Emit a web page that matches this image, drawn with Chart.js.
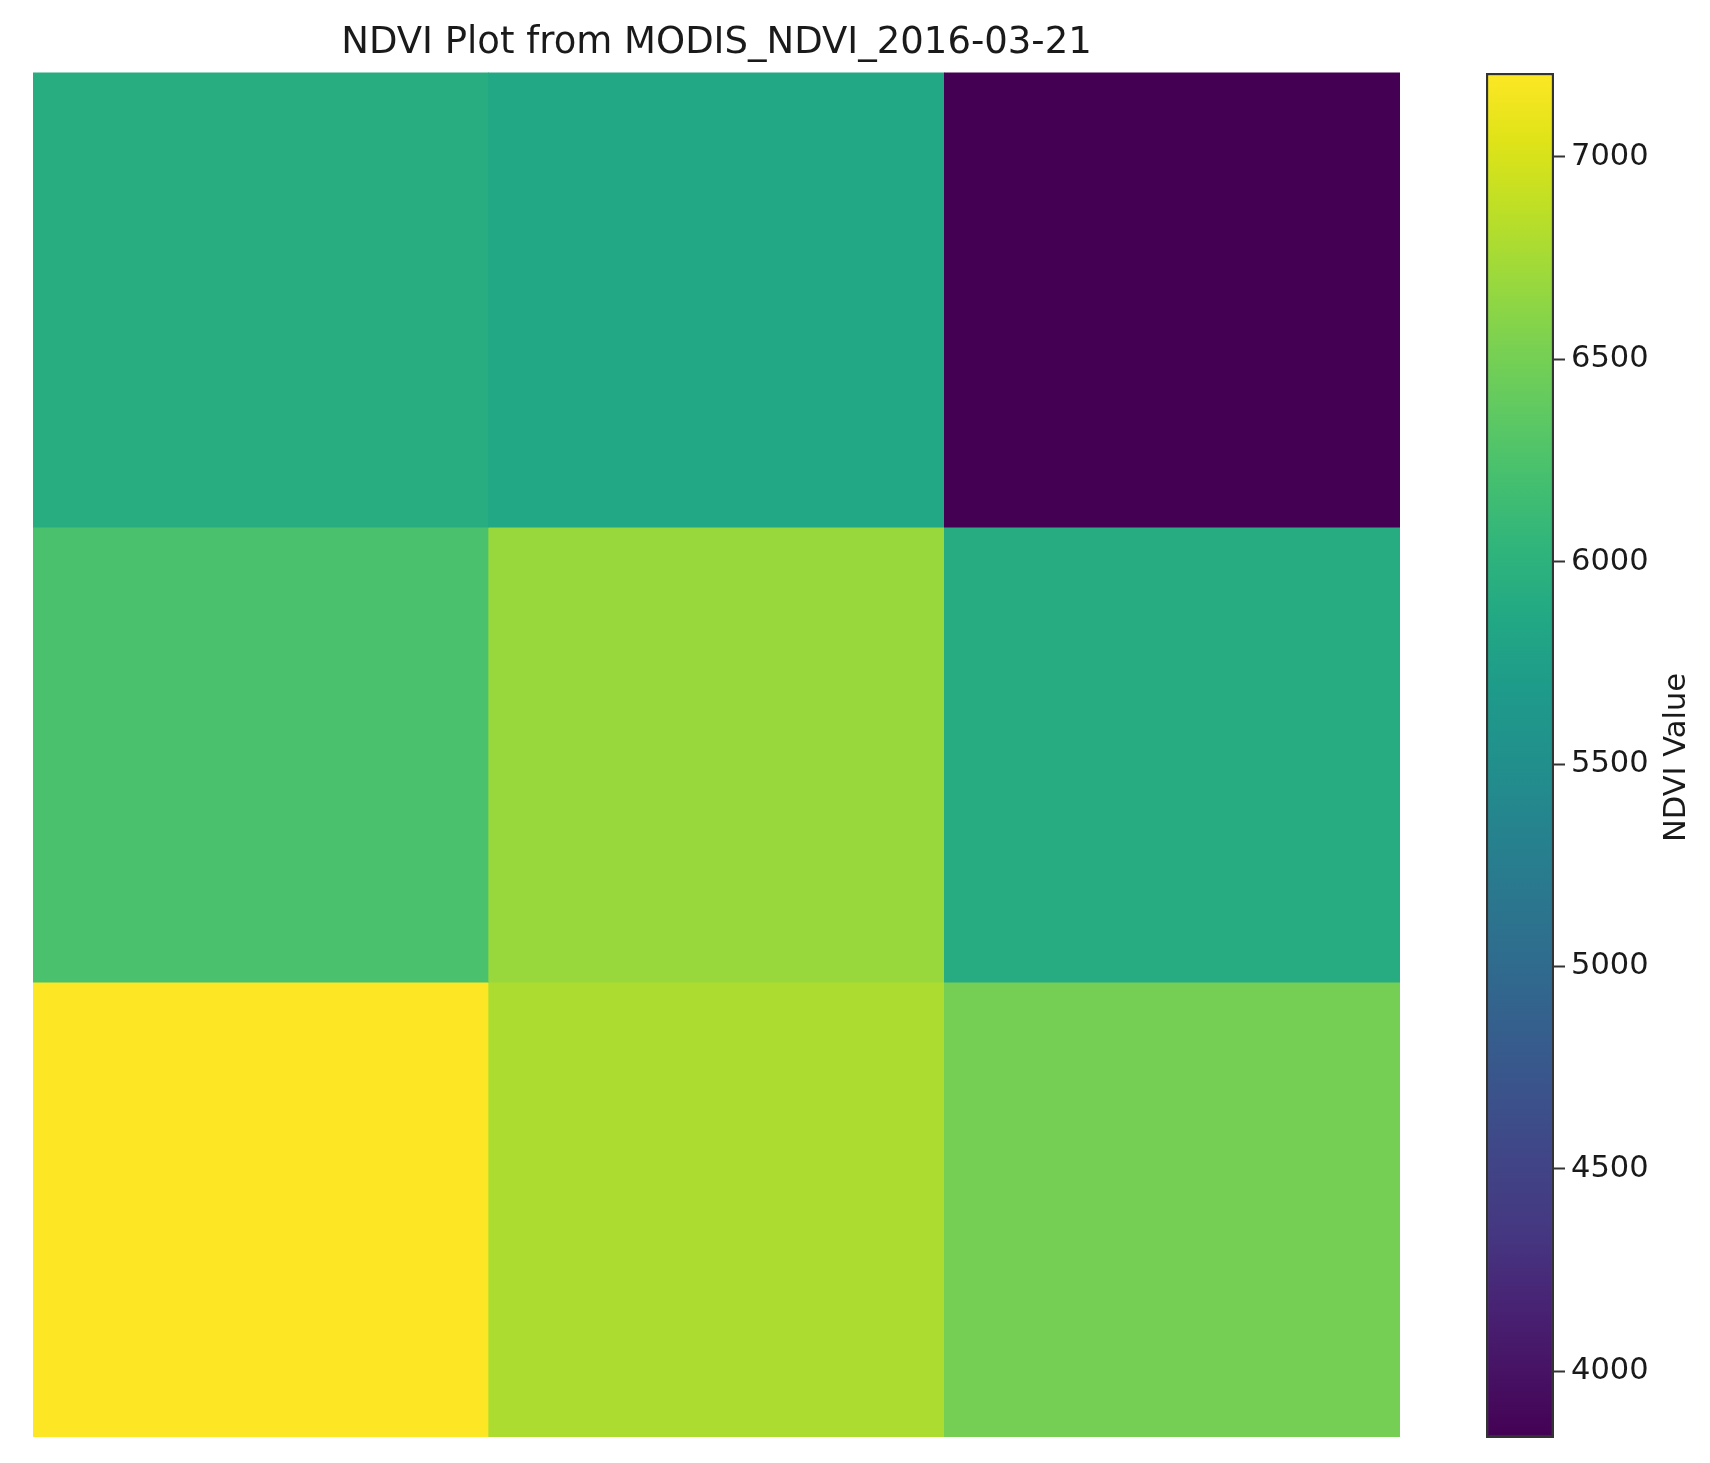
<!DOCTYPE html>
<html>
<head>
<meta charset="utf-8">
<script src="https://cdn.jsdelivr.net/npm/chart.js@4.4.1/dist/chart.umd.min.js"></script>
<style>
  html, body { margin: 0; padding: 0; background: #ffffff; }
  body { width: 1710px; height: 1463px; position: relative; overflow: hidden; }
  #heatWrap { position: absolute; left: 33px; top: 0px; width: 1367px; height: 1437px; }
  #cbWrap { position: absolute; left: 1486px; top: 73px; width: 224px; height: 1365px; }
</style>
</head>
<body>
<div id="heatWrap"><canvas id="heat"></canvas></div>
<div id="cbWrap"><canvas id="cb"></canvas></div>
<script>
// ---- Data ----
const title = "NDVI Plot from MODIS_NDVI_2016-03-21";
const colLabels = ["0", "1", "2"];
const rowLabels = ["0", "1", "2"];
const row0 = [5930, 5860, 3835];
const row1 = [6230, 6690, 5920];
const row2 = [7207, 6790, 6500];
const rows = [row0, row1, row2];
const vmin = 3835;
const vmax = 7207;
const cbTicks = [4000, 4500, 5000, 5500, 6000, 6500, 7000];
const cbLabel = "NDVI Value";

// ---- Viridis colormap anchors ----
const viridis = ["#440154","#471365","#482475","#453781","#414487","#3b528b","#355f8d","#2f6c8e","#2a788e","#25848e","#21918c","#1e9b8a","#22a884","#2fb47c","#44bf70","#5ec962","#7ad151","#9bd93c","#bddf26","#dfe318","#fde725"];
function hex2rgb(h){ return [parseInt(h.substr(1,2),16), parseInt(h.substr(3,2),16), parseInt(h.substr(5,2),16)]; }
const vrgb = viridis.map(hex2rgb);
function cmap(t){
  t = Math.max(0, Math.min(1, t));
  const n = vrgb.length - 1;
  const f = t * n;
  const i = Math.min(Math.floor(f), n - 1);
  const u = f - i;
  const a = vrgb[i], b = vrgb[i+1];
  const c = a.map((x, k) => Math.round(x + (b[k] - x) * u));
  return `rgb(${c[0]},${c[1]},${c[2]})`;
}
function colorOf(v){ return cmap((v - vmin) / (vmax - vmin)); }

const FONT = "'DejaVu Sans', 'Liberation Sans', sans-serif";
const TXT = "#1a1a1a";

// ---- Heatmap ----
const heatDatasets = rows.map((r, ri) => ({
  label: "row " + rowLabels[ri],
  data: r.map(() => [ri, ri + 1]),
  backgroundColor: r.map(colorOf),
  borderWidth: 0,
  barPercentage: 1.0,
  categoryPercentage: 1.0,
  grouped: false
}));

new Chart(document.getElementById('heat'), {
  type: 'bar',
  data: { labels: colLabels, datasets: heatDatasets },
  options: {
    responsive: true,
    maintainAspectRatio: false,
    devicePixelRatio: 1,
    animation: false,
    layout: { padding: 0 },
    plugins: {
      legend: { display: false },
      tooltip: { enabled: false },
      title: {
        display: true,
        text: title,
        color: TXT,
        font: { family: FONT, size: 37, weight: 'normal', lineHeight: 1.2 },
        padding: { top: 21, bottom: 7 }
      }
    },
    scales: {
      x: { display: false, offset: true, grid: { display: false } },
      y: { display: false, min: 0, max: 3, reverse: true, grid: { display: false } }
    }
  }
});

// ---- Colorbar ----
const cbLabelPlugin = {
  id: 'cbLabel',
  afterDraw(chart) {
    const ctx = chart.ctx;
    const area = chart.chartArea;
    ctx.save();
    ctx.translate(1677 - 1486, (area.top + area.bottom) / 2 + 2);
    ctx.rotate(-Math.PI / 2);
    ctx.fillStyle = TXT;
    ctx.font = "30.5px " + FONT;
    ctx.textAlign = 'center';
    ctx.textBaseline = 'middle';
    ctx.fillText(cbLabel, 0, 0);
    ctx.restore();
  }
};

function cbGradient(context) {
  const chart = context.chart;
  const area = chart.chartArea;
  if (!area) return viridis[10];
  const g = chart.ctx.createLinearGradient(0, area.bottom, 0, area.top);
  viridis.forEach((c, i) => g.addColorStop(i / (viridis.length - 1), c));
  return g;
}

new Chart(document.getElementById('cb'), {
  type: 'bar',
  data: {
    labels: [cbLabel],
    datasets: [{
      data: [[vmin, vmax]],
      backgroundColor: cbGradient,
      borderColor: '#333333',
      borderWidth: 2.5,
      borderSkipped: false,
      barPercentage: 1.0,
      categoryPercentage: 1.0
    }]
  },
  plugins: [cbLabelPlugin],
  options: {
    responsive: true,
    maintainAspectRatio: false,
    devicePixelRatio: 1,
    animation: false,
    layout: { padding: 0 },
    plugins: { legend: { display: false }, tooltip: { enabled: false }, title: { display: false } },
    scales: {
      x: { display: false, grid: { display: false } },
      y: {
        position: 'right',
        min: vmin,
        max: vmax,
        afterBuildTicks: (s) => { s.ticks = cbTicks.map(v => ({ value: v })); },
        afterFit: (s) => { s.width = 224 - 68; s.paddingTop = 0; s.paddingBottom = 0; },
        border: { display: false },
        grid: {
          display: true,
          drawOnChartArea: false,
          drawTicks: true,
          tickLength: 11,
          tickWidth: 2,
          tickColor: '#333333',
          color: '#333333'
        },
        ticks: {
          padding: 6,
          color: TXT,
          font: { family: FONT, size: 30.5 },
          callback: (v) => String(v)
        }
      }
    }
  }
});
</script>
</body>
</html>
